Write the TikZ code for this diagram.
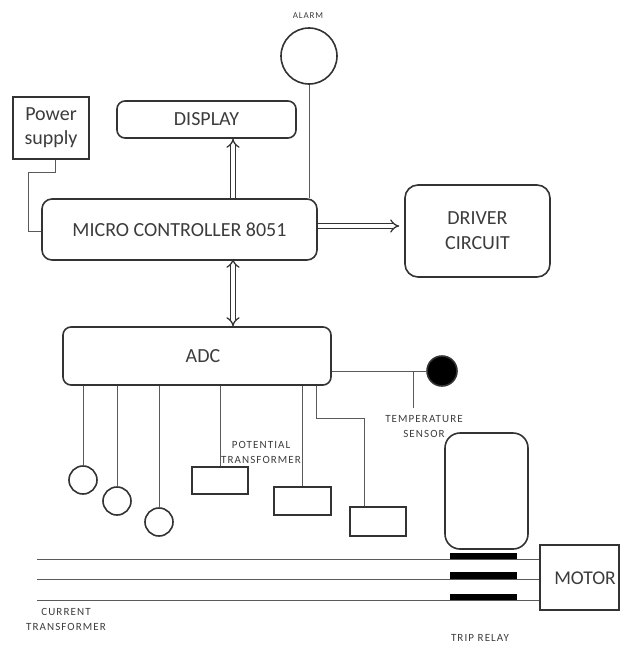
\documentclass[tikz,border=0pt]{standalone}
\usepackage{fontspec}
\setmainfont{Carlito}
\newfontfamily\lblfont[LetterSpace=10]{Carlito}
\usetikzlibrary{arrows.meta,calc}
\definecolor{boxc}{HTML}{333333}
\definecolor{wirec}{HTML}{5A5A5A}
\definecolor{txtc}{HTML}{3C3C3C}
\begin{document}
\begin{tikzpicture}[x=1pt,y=-1pt,
  box/.style={draw=boxc, line width=1.6pt, rounded corners=8pt, inner sep=0pt},
  circ/.style={draw=boxc, line width=1.6pt, circle, inner sep=0pt},
  big/.style={font=\fontsize{20}{24}\selectfont, text=txtc, align=center},
  small/.style={font=\lblfont\fontsize{11}{15}\selectfont, text=txtc, align=center, inner sep=0pt},
  wire/.style={draw=wirec, line width=1pt},
  dbl/.style={draw=boxc, line width=1.3pt, double=white, double distance=3.2pt},
  bar/.style={fill=black, draw=none, minimum width=67pt, minimum height=6.5pt, inner sep=0pt}]
\useasboundingbox (0,0) rectangle (621,645);

% blocks
\node[box, sharp corners, minimum width=76pt, minimum height=62pt, big] (ps) at (51,128) {Power\\supply};
\node[box, minimum width=179pt, minimum height=37pt, big] (disp) at (206.5,119.5) {DISPLAY};
\node[box, rounded corners=10pt, minimum width=275pt, minimum height=61pt, big] (mc) at (179.5,229.5) {MICRO CONTROLLER 8051};
\node[box, rounded corners=13pt, minimum width=145pt, minimum height=92pt, font=\fontsize{20}{25}\selectfont, text=txtc, align=center] (drv) at (477.5,231) {DRIVER\\CIRCUIT};
\node[box, minimum width=268pt, minimum height=58pt] (adc) at (197,356) {};
\node[big] (adctxt) at (203,356) {ADC};

% alarm
\node[circ, minimum size=56pt] (alarm) at (309,56) {};
\node[small, font=\lblfont\fontsize{9}{10}\selectfont] (alarmtxt) at (308,16) {ALARM};
\draw[wire] (alarm.south) -- (alarm.south |- mc.north);

% power supply wire
\draw[wire] ([xshift=4pt]ps.south) -- ++(0,13) -| ($(mc.west)+(-13,1.5)$) -- ($(mc.west)+(0,1.5)$);

% bus arrows
\coordinate (xa) at (233,0);
\coordinate (ya) at (0,226);
\draw[dbl,-{Implies}] (mc.north -| xa) -- (disp.south -| xa);
\draw[dbl,{Implies}-{Implies}] ([yshift=2pt]mc.south -| xa) -- (adc.north -| xa);
\draw[dbl,-{Implies},shorten >=5pt] (mc.east |- ya) -- (drv.west |- ya);

% current transformers
\node[circ, minimum size=28pt] (ct1) at (83,480) {};
\node[circ, minimum size=28pt] (ct2) at (117,501) {};
\node[circ, minimum size=28pt] (ct3) at (159,522) {};
\foreach \c in {ct1,ct2,ct3} \draw[wire] (\c.north |- adc.south) -- (\c.north);
\node[small] (cttxt) at (66,619) {CURRENT\\TRANSFORMER};

% potential transformers
\node[box, sharp corners, minimum width=56pt, minimum height=27pt] (pt1) at (220,480.5) {};
\node[box, sharp corners, minimum width=57pt, minimum height=28pt] (pt2) at (302.5,501) {};
\node[box, sharp corners, minimum width=56pt, minimum height=29pt] (pt3) at (378,521.5) {};
\draw[wire] (pt1.north |- adc.south) -- (pt1.north);
\draw[wire] (pt2.north |- adc.south) -- (pt2.north);
\coordinate (xp) at (316,0);
\draw[wire] (adc.south -| xp) -- ++(0,33) -| ([xshift=-14pt]pt3.north);
\node[small] (pttxt) at (261,452) {POTENTIAL\\TRANSFORMER};

% temperature sensor
\node[circ, fill=black, minimum size=30pt] (temp) at (442,371) {};
\draw[wire] (adc.east |- temp) -- (temp.west);
\coordinate (tb) at (413,371);
\draw[wire] (tb) -- ++(0,37);
\node[small] (temptxt) at (424,427) {TEMPERATURE\\SENSOR};

% trip relay and motor
\node[box, rounded corners=15pt, minimum width=83pt, minimum height=116pt] (relay) at (486.5,491) {};
\node[box, sharp corners, minimum width=79pt, minimum height=65pt] (motor) at (579.5,577.5) {};
\node[font=\fontsize{19.5}{22}\selectfont, text=txtc] (motortxt) at (585,578) {MOTOR};
\coordinate (l1) at (37,559);
\coordinate (l2) at (37,579);
\coordinate (l3) at (37,600);
\foreach \l in {l1,l2,l3} \draw[wire] (\l) -- (motor.west |- \l);
\node[bar] (b1) at (483.5,556) {};
\node[bar] (b2) at (483.5,575.5) {};
\node[bar] (b3) at (483.5,597) {};
\node[small] (triptxt) at (480,638) {TRIP RELAY};
\end{tikzpicture}
\end{document}
